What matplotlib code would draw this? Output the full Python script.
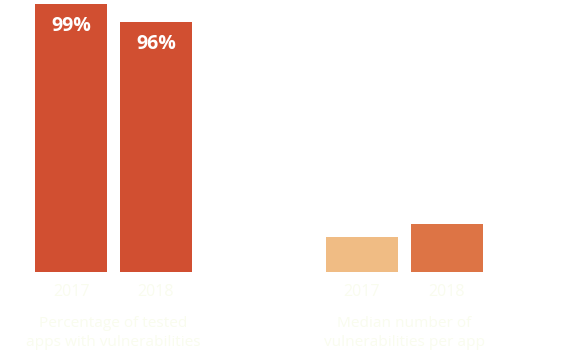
import matplotlib
matplotlib.use("Agg")
import matplotlib.pyplot as plt

# Data
groups = ["Percentage of tested\napps with vulnerabilities",
          "Median number of\nvulnerabilities per app"]
years = ["2017", "2018"]
# bar heights (axis units where the 99% bar = 99)
pct_values = [99, 92.4]
pct_labels = ["99%", "96%"]
median_values = [12.9, 17.7]

colors_pct = ["#d14f31", "#d14f31"]
colors_med = ["#f0bc84", "#dd7445"]
text_col = "#f9fcee"

W, H = 570, 364
fig = plt.figure(figsize=(W / 100, H / 100), dpi=100)
ax = fig.add_axes([0, 92 / H, 1, 268 / H])
ax.set_xlim(0, W)
ax.set_ylim(0, 99)
ax.axis("off")

px = 99 / 268  # data units per pixel
group_centers = [113.5, 404]
offset = 42.5
bar_w = 72

all_vals = [pct_values, median_values]
all_cols = [colors_pct, colors_med]
for g, (gc, vals, cols) in enumerate(zip(group_centers, all_vals, all_cols)):
    xs = [gc - offset, gc + offset]
    ax.bar(xs, vals, width=bar_w, color=cols, linewidth=0)
    for x, yr in zip(xs, years):
        ax.text(x, -20 * px, yr, ha="center", va="center",
                fontsize=11.5, color=text_col, family="Open Sans")
    ax.text(gc, -61 * px, groups[g], ha="center", va="center",
            fontsize=11.1, color=text_col, family="Open Sans", linespacing=1.4)

xs0 = [group_centers[0] - offset, group_centers[0] + offset]
for x, v, lab in zip(xs0, pct_values, pct_labels):
    ax.text(x, v - 22 * px, lab, ha="center", va="center",
            fontsize=14, fontweight="bold", color="white", family="Open Sans")

fig.savefig("out.png", dpi=100, facecolor="white")
